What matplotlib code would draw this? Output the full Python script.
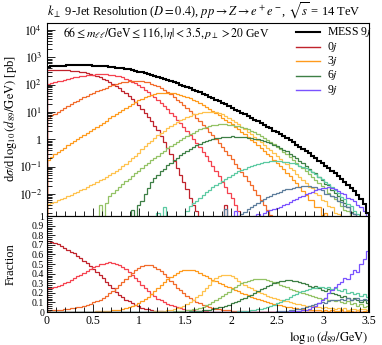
import matplotlib.pyplot as plt
import numpy as np
from matplotlib.lines import Line2D
from matplotlib.ticker import FixedLocator, MultipleLocator, LogLocator, NullFormatter

plt.rcParams["font.family"] = ["Liberation Serif", "DejaVu Serif"]
plt.rcParams["mathtext.fontset"] = "stix"

# 100 bins of log10(d89/GeV) between 0 and 3.5
edges = np.linspace(0, 3.5, 101)

# MESS 9j inclusive prediction, log10 of dsigma/dlog10(d89) [pb]
total_log = [2.65, 2.67, 2.675, 2.685, 2.695, 2.70, 2.71, 2.715, 2.72, 2.72,
             2.72, 2.72, 2.715, 2.71, 2.70, 2.695, 2.685, 2.68, 2.665, 2.655,
             2.64, 2.625, 2.61, 2.595, 2.57, 2.555, 2.525, 2.505, 2.475, 2.45,
             2.415, 2.39, 2.355, 2.33, 2.29, 2.26, 2.21, 2.18, 2.13, 2.095,
             2.045, 2.005, 1.955, 1.915, 1.86, 1.815, 1.76, 1.715, 1.655, 1.61,
             1.55, 1.50, 1.44, 1.39, 1.33, 1.28, 1.21, 1.155, 1.09, 1.035,
             0.97, 0.91, 0.85, 0.79, 0.72, 0.66, 0.59, 0.53, 0.46, 0.40,
             0.32, 0.26, 0.18, 0.11, 0.04, -0.04, -0.11, -0.19, -0.27, -0.35,
             -0.43, -0.51, -0.60, -0.68, -0.78, -0.86, -0.96, -1.05, -1.14, -1.24,
             -1.34, -1.44, -1.55, -1.66, -1.77, -1.89, -2.02, -2.18, -2.35, -2.70]

# fraction of the total from each exclusive jet multiplicity
frac_0j = [0.74, 0.73, 0.72, 0.705, 0.69, 0.67, 0.65, 0.63, 0.61, 0.585,
           0.56, 0.535, 0.51, 0.48, 0.45, 0.42, 0.385, 0.35, 0.315, 0.28,
           0.245, 0.21, 0.18, 0.155, 0.13, 0.11, 0.09, 0.073, 0.058, 0.046,
           0.036, 0.027, 0.02, 0.015, 0.011, 0.0075, 0.005, 0.0033, 0.0021, 0.0013,
           0.0008, 0.0005, 0.0003, 0.00018, 0.0001, 0.00006, 0.00004, 0, 0, 0,
           0, 0, 0, 0, 0, 0.0002, 0, 0, 0, 0] + [0.0] * 40
frac_1j = [0.245, 0.255, 0.265, 0.275, 0.285, 0.30, 0.315, 0.33, 0.35, 0.37,
           0.39, 0.41, 0.43, 0.45, 0.465, 0.48, 0.495, 0.505, 0.515, 0.52,
           0.515, 0.505, 0.49, 0.47, 0.445, 0.415, 0.385, 0.355, 0.32, 0.285,
           0.25, 0.22, 0.19, 0.165, 0.14, 0.12, 0.10, 0.085, 0.07, 0.058,
           0.047, 0.038, 0.031, 0.025, 0.02, 0.016, 0.0125, 0.0097, 0.0075, 0.0058,
           0.0044, 0.0033, 0.0025, 0.0018, 0.0013, 0.00095, 0.00068, 0.00048, 0.00033, 0.00022,
           0.00014, 0.00009, 0, 0, 0, 0, 0, 0, 0, 0] + [0.0] * 30
frac_2j = [0.014, 0.016, 0.018, 0.021, 0.024, 0.028, 0.032, 0.037, 0.043, 0.05,
           0.057, 0.065, 0.075, 0.087, 0.10, 0.115, 0.13, 0.15, 0.17, 0.195,
           0.22, 0.25, 0.28, 0.31, 0.345, 0.38, 0.41, 0.435, 0.46, 0.475,
           0.485, 0.49, 0.485, 0.47, 0.45, 0.425, 0.395, 0.36, 0.325, 0.29,
           0.255, 0.225, 0.195, 0.17, 0.145, 0.125, 0.107, 0.09, 0.076, 0.064,
           0.053, 0.044, 0.036, 0.03, 0.024, 0.02, 0.016, 0.013, 0.0105, 0.0085,
           0.0068, 0.0054, 0.0043, 0.0034, 0.0027, 0.0021, 0.0016, 0.0012, 0.0009, 0.0007,
           0.0005, 0.00038, 0.00028, 0.0002, 0.00014, 0, 0, 0.0002, 0, 0] + [0.0] * 20
frac_3j = [0.0004, 0.0005, 0.0006, 0.0007, 0.00085, 0.001, 0.0012, 0.0014, 0.0017, 0.002,
           0.0024, 0.0028, 0.0034, 0.004, 0.0048, 0.0058, 0.007, 0.0085, 0.0105, 0.013,
           0.016, 0.02, 0.025, 0.031, 0.038, 0.047, 0.058, 0.072, 0.09, 0.11,
           0.135, 0.16, 0.19, 0.22, 0.25, 0.28, 0.31, 0.34, 0.365, 0.39,
           0.41, 0.425, 0.435, 0.44, 0.44, 0.435, 0.425, 0.41, 0.39, 0.37,
           0.35, 0.335, 0.32, 0.305, 0.29, 0.275, 0.26, 0.245, 0.23, 0.215,
           0.2, 0.186, 0.172, 0.159, 0.147, 0.135, 0.124, 0.113, 0.103, 0.094,
           0.085, 0.077, 0.069, 0.062, 0.055, 0.049, 0.043, 0.038, 0.033, 0.029,
           0.025, 0.02, 0.024, 0.016, 0.02, 0.012, 0.018, 0.01, 0.02, 0.008,
           0.015, 0.025, 0.005, 0.015, 0.01, 0, 0.02, 0, 0.015, 0]
frac_4j = [0.00001, 0.00001, 0.000011, 0.000012, 0.000013, 0.000014, 0.000016, 0.000018, 0.00002, 0.000023,
           0.000026, 0.00003, 0.000034, 0.00004, 0.000047, 0.000055, 0.000065, 0.000077, 0.00009, 0.00011,
           0.00013, 0.00016, 0.0002, 0.00026, 0.00033, 0.00045, 0.0006, 0.0008, 0.0011, 0.0016,
           0.0022, 0.003, 0.004, 0.0054, 0.0072, 0.0096, 0.0128, 0.017, 0.0225, 0.03,
           0.039, 0.05, 0.064, 0.081, 0.1, 0.125, 0.152, 0.182, 0.215, 0.25,
           0.285, 0.32, 0.35, 0.37, 0.385, 0.39, 0.385, 0.37, 0.35, 0.325,
           0.305, 0.285, 0.265, 0.245, 0.228, 0.212, 0.197, 0.183, 0.17, 0.158,
           0.147, 0.137, 0.127, 0.118, 0.11, 0.102, 0.094, 0.087, 0.08, 0.073,
           0.066, 0.06, 0.065, 0.05, 0.055, 0.045, 0.05, 0.04, 0.045, 0.035,
           0.04, 0.03, 0.038, 0.025, 0.03, 0.035, 0.02, 0.03, 0.035, 0.02]
frac_5j = [0, 0, 0, 0, 0, 0, 0, 0, 0, 0,
           0, 0, 0, 0, 0, 0, 0.000008, 0, 0.00001, 0.000018,
           0.000025, 0.000033, 0.000044, 0.000059, 0.000078, 0.0001, 0.00014, 0.00018, 0.00024, 0.00032,
           0.00043, 0.00057, 0.00076, 0.001, 0.0013, 0.0018, 0.0024, 0.0032, 0.0042, 0.0055,
           0.0073, 0.0095, 0.0125, 0.016, 0.021, 0.027, 0.035, 0.045, 0.057, 0.071,
           0.087, 0.105, 0.125, 0.145, 0.167, 0.19, 0.212, 0.235, 0.257, 0.278,
           0.297, 0.313, 0.327, 0.338, 0.345, 0.348, 0.347, 0.343, 0.335, 0.325,
           0.313, 0.3, 0.286, 0.272, 0.258, 0.244, 0.23, 0.217, 0.205, 0.194,
           0.183, 0.173, 0.163, 0.155, 0.147, 0.14, 0.15, 0.125, 0.12, 0.11,
           0.12, 0.1, 0.09, 0.11, 0.08, 0.09, 0.06, 0.08, 0.05, 0.06]
frac_6j = [0.0] * 20 + [
           0, 0, 0, 0, 0, 0, 0.000008, 0, 0.000013, 0.00002,
           0.00004, 0.00007, 0.00012, 0.00018, 0.00026, 0.00037, 0.00052, 0.00073, 0.001, 0.0014,
           0.0019, 0.0026, 0.0035, 0.0047, 0.0062, 0.0081, 0.0105, 0.0135, 0.017, 0.021,
           0.026, 0.032, 0.039, 0.047, 0.056, 0.066, 0.077, 0.089, 0.102, 0.116,
           0.131, 0.147, 0.164, 0.182, 0.2, 0.218, 0.236, 0.254, 0.27, 0.285,
           0.298, 0.31, 0.318, 0.325, 0.33, 0.33, 0.325, 0.318, 0.31, 0.3,
           0.29, 0.275, 0.26, 0.27, 0.245, 0.23, 0.22, 0.24, 0.2, 0.19,
           0.18, 0.16, 0.17, 0.15, 0.13, 0.15, 0.12, 0.1, 0.12, 0.09]
frac_7j = [0.0] * 30 + [
           0, 0, 0, 0, 0.00001, 0, 0.00002, 0, 0, 0,
           0, 0.000015, 0, 0.00003, 0.00005, 0.00007, 0.0001, 0.00014, 0.0002, 0.00028,
           0.0004, 0.00055, 0.00075, 0.001, 0.0014, 0.0019, 0.0026, 0.0035, 0.0047, 0.0062,
           0.008, 0.0105, 0.0135, 0.017, 0.022, 0.028, 0.035, 0.043, 0.053, 0.064,
           0.077, 0.09, 0.105, 0.12, 0.137, 0.155, 0.172, 0.19, 0.205, 0.22,
           0.232, 0.242, 0.25, 0.255, 0.258, 0.26, 0.25, 0.26, 0.24, 0.245,
           0.23, 0.22, 0.24, 0.2, 0.21, 0.19, 0.2, 0.17, 0.19, 0.16]
frac_8j = [0.0] * 50 + [
           0, 0, 0, 0, 0, 0.00015, 0, 0.0001, 0, 0.00015,
           0.0002, 0.00028, 0.0004, 0.00055, 0.00075, 0.001, 0.0014, 0.0019, 0.0026, 0.0035,
           0.0047, 0.0062, 0.008, 0.0105, 0.0135, 0.017, 0.022, 0.028, 0.035, 0.043,
           0.052, 0.062, 0.072, 0.083, 0.094, 0.105, 0.095, 0.115, 0.12, 0.13,
           0.12, 0.14, 0.13, 0.15, 0.12, 0.14, 0.15, 0.12, 0.14, 0.13]
frac_9j = [0.0] * 50 + [
           0, 0, 0, 0, 0, 0, 0, 0, 0.0002, 0,
           0, 0, 0.0002, 0, 0.0003, 0.0004, 0, 0.0006, 0.0008, 0.001,
           0.0013, 0.0017, 0.0022, 0.003, 0.004, 0.0055, 0.0075, 0.01, 0.014, 0.019,
           0.026, 0.035, 0.048, 0.065, 0.09, 0.12, 0.15, 0.2, 0.23, 0.26,
           0.29, 0.31, 0.35, 0.34, 0.4, 0.44, 0.42, 0.5, 0.55, 0.64]

fractions = [frac_0j, frac_1j, frac_2j, frac_3j, frac_4j,
             frac_5j, frac_6j, frac_7j, frac_8j, frac_9j]
colors = ["#c0232c", "#f5424f", "#f26a2a", "#ff9a1c", "#ffc24d",
          "#93c265", "#3d7f45", "#5ccaa2", "#5d7d9c", "#7a52ff"]

total = 10 ** np.array(total_log)

W, H = 382, 345
fig = plt.figure(figsize=(W / 100, H / 100), dpi=100)
ax = fig.add_axes([47 / W, 1 - 216 / H, 322 / W, 193 / H])
rax = fig.add_axes([47 / W, 1 - 312 / H, 322 / W, 96 / H])

for fr, col in zip(fractions, colors):
    fr = np.array(fr)
    vals = np.where(fr > 0, total * fr, 1e-9)
    ax.stairs(vals, edges, color=col, lw=0.9)
    rax.stairs(fr, edges, color=col, lw=0.9)
ax.stairs(total, edges, color="black", lw=1.5)
rax.stairs(np.ones(len(total)), edges, color="black", lw=1.5)

# main panel
ax.set_yscale("log")
ax.set_xlim(0, 3.5)
ax.set_ylim(1.57e-3, 1.8e4)
ax.yaxis.set_major_locator(FixedLocator([1e-2, 1e-1, 1, 1e1, 1e2, 1e3, 1e4]))
ax.set_yticklabels([r"$10^{-2}$", r"$10^{-1}$", "1", r"$10^{1}$", r"$10^{2}$",
                    r"$10^{3}$", r"$10^{4}$"])
ax.yaxis.set_minor_locator(LogLocator(base=10, subs=np.arange(2, 10), numticks=20))
ax.yaxis.set_minor_formatter(NullFormatter())
ax.xaxis.set_major_locator(MultipleLocator(0.5))
ax.xaxis.set_minor_locator(MultipleLocator(0.1))
ax.tick_params(axis="x", labelbottom=False)
for a in (ax, rax):
    a.tick_params(which="both", direction="in", labelsize=8.5, width=0.6)
    a.tick_params(which="major", length=6)
    a.tick_params(which="minor", length=3.5)
    for s in a.spines.values():
        s.set_linewidth(0.8)

# ratio panel
rax.set_xlim(0, 3.5)
rax.set_ylim(0, 1.0)
rax.set_yticks(np.arange(0, 1.01, 0.1))
rax.set_yticklabels(["0", "0.1", "0.2", "0.3", "0.4", "0.5", "0.6", "0.7", "0.8", "0.9", "1"])
rax.yaxis.set_minor_locator(MultipleLocator(0.02))
rax.tick_params(axis="y", labelsize=7, pad=2)
rax.set_xticks(np.arange(0, 3.51, 0.5))
rax.set_xticklabels(["0", "0.5", "1", "1.5", "2", "2.5", "3", "3.5"])
rax.xaxis.set_minor_locator(MultipleLocator(0.1))
rax.tick_params(axis="x", pad=2)

fig.text(47 / W, 1 - 11 / H,
         r"$k_\perp$ 9-Jet Resolution ($D = 0.4$), $pp \rightarrow Z \rightarrow e^+e^-$, $\sqrt{s}$ = 14 TeV",
         fontsize=9, va="center", ha="left")
fig.text(63 / W, 1 - 33 / H,
         r"$66 \leq m_{\ell\ell}/\mathrm{GeV} \leq 116, |\eta| < 3.5, p_\perp > 20$ GeV",
         fontsize=8.5, va="center", ha="left")
fig.text(11 / W, 1 - 119 / H, r"d$\sigma$/d$\,\log_{10}(d_{89}/\mathrm{GeV})$ [pb]",
         fontsize=9, rotation=90, va="center", ha="center")
fig.text(11 / W, 1 - 264 / H, "Fraction", fontsize=9, rotation=90, va="center", ha="center")
fig.text(369 / W, 1 - 337 / H, r"$\log_{10}(d_{89}/\mathrm{GeV})$",
         fontsize=9, va="center", ha="right")

# legend
leg_labels = [r"MESS 9$j$", r"0$j$", r"3$j$", r"6$j$", r"9$j$"]
leg_colors = ["black", colors[0], colors[3], colors[6], colors[9]]
leg_rows = [32, 46.5, 61, 75.5, 90]
for lab, col, yy in zip(leg_labels, leg_colors, leg_rows):
    fig.add_artist(Line2D([296 / W, 320 / W], [1 - yy / H, 1 - yy / H], color=col,
                          lw=1.5 if col == "black" else 1.0))
    fig.text(327 / W, 1 - yy / H, lab, fontsize=8.5, va="center", ha="left")

fig.savefig("out.png", dpi=100)
